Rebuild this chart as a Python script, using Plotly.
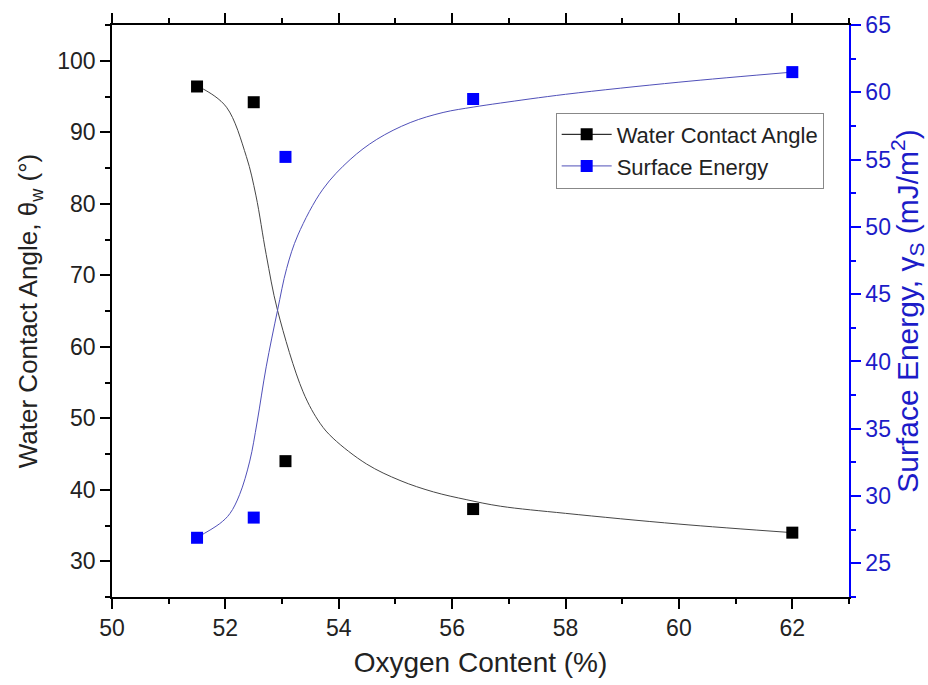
import plotly.graph_objects as go

# Measured data points
oxygen = [51.5, 52.5, 53.06, 56.37, 62.0]
contact_angle = [96.4, 94.2, 44.0, 37.3, 34.0]
surface_energy = [26.9, 28.4, 55.2, 59.5, 61.5]

# Fitted curves
fit_x_angle = [51.49, 51.62, 52.02, 52.37, 52.54, 52.72, 52.92, 53.37, 53.67, 53.90,
               54.49, 55.08, 55.67, 56.26, 56.85, 58.0, 60.0, 62.0]
fit_y_angle = [96.4, 96.0, 93.5, 86.6, 81.1, 72.9, 65.1, 53.7, 49.3, 47.2,
               43.6, 41.3, 39.7, 38.6, 37.7, 36.7, 35.2, 34.0]
fit_x_energy = [51.49, 51.90, 52.08, 52.25, 52.43, 52.56, 52.72, 52.92, 53.08,
                53.28, 53.72, 54.20, 54.67, 55.26, 55.84, 56.37, 56.85, 58.0,
                60.0, 62.0]
fit_y_energy = [26.9, 27.95, 28.7, 30.1, 32.6, 35.5, 39.6, 43.8, 46.9,
                49.4, 52.8, 55.0, 56.5, 57.75, 58.5, 58.9, 59.2, 59.85,
                60.75, 61.5]

BLACK_LINE = "rgb(70,70,70)"
BLUE = "#0000ff"
BLUE_LINE = "rgb(80,80,185)"
BLUE_TEXT = "#1c1cc8"
TEXT = "#222"
FONT = "Liberation Sans, Arial, sans-serif"
NB = "\u00a0"

fig = go.Figure()

fig.add_trace(go.Scatter(x=fit_x_angle, y=fit_y_angle, mode="lines",
                         line=dict(color=BLACK_LINE, width=1, shape="spline", smoothing=1),
                         showlegend=False, hoverinfo="skip"))
fig.add_trace(go.Scatter(x=fit_x_energy, y=fit_y_energy, mode="lines", yaxis="y2",
                         line=dict(color=BLUE_LINE, width=1, shape="spline", smoothing=1),
                         showlegend=False, hoverinfo="skip"))
fig.add_trace(go.Scatter(x=oxygen, y=contact_angle, mode="markers",
                         marker=dict(symbol="square", size=12, color="black"),
                         showlegend=False))
fig.add_trace(go.Scatter(x=oxygen, y=surface_energy, mode="markers", yaxis="y2",
                         marker=dict(symbol="square", size=12, color=BLUE),
                         showlegend=False))
# legend entries
fig.add_trace(go.Scatter(x=[None], y=[None], mode="lines+markers", name="Water Contact Angle",
                         line=dict(color="black", width=1),
                         marker=dict(symbol="square", size=12, color="black")))
fig.add_trace(go.Scatter(x=[None], y=[None], mode="lines+markers", name="Surface Energy",
                         yaxis="y2",
                         line=dict(color=BLUE_LINE, width=1),
                         marker=dict(symbol="square", size=12, color=BLUE)))

fig.update_layout(
    width=928, height=685,
    margin=dict(l=112, r=79, t=16, b=87),
    paper_bgcolor="white", plot_bgcolor="white",
    font=dict(family=FONT, size=22, color=TEXT),
    xaxis=dict(
        range=[50, 63], dtick=2, tick0=50,
        showline=True, linecolor="black", linewidth=1.5, mirror="ticks",
        ticks="outside", ticklen=10, tickwidth=1.5, tickcolor="black",
        minor=dict(dtick=1, ticks="outside", ticklen=5, tickwidth=1.5, tickcolor="black", showgrid=False),
        showgrid=False, zeroline=False,
        title=dict(text="Oxygen Content (%)", font=dict(size=28, color=TEXT), standoff=12),
        tickfont=dict(size=23, color=TEXT),
    ),
    yaxis=dict(
        range=[25, 105], dtick=10, tick0=30,
        showline=True, linecolor="black", linewidth=1.5,
        ticks="outside", ticklen=10, tickwidth=1.5, tickcolor="black",
        minor=dict(dtick=5, ticks="outside", ticklen=5, tickwidth=1.5, tickcolor="black", showgrid=False),
        showgrid=False, zeroline=False,
        title=dict(text="Water Contact Angle, θ<sub>w</sub> (°)" + NB * 4,
                   font=dict(size=26, color=TEXT), standoff=12),
        tickfont=dict(size=23, color=TEXT),
    ),
    yaxis2=dict(
        overlaying="y", side="right", anchor="x",
        range=[22.5, 65], dtick=5, tick0=25,
        showline=True, linecolor=BLUE, linewidth=1.5,
        ticks="outside", ticklen=10, tickwidth=1.5, tickcolor=BLUE,
        minor=dict(dtick=2.5, ticks="outside", ticklen=5, tickwidth=1.5, tickcolor=BLUE, showgrid=False),
        showgrid=False, zeroline=False,
        title=dict(text=NB * 6 + "Surface Energy, γ<sub>S</sub> (mJ/m<sup>2</sup>)",
                   font=dict(size=30, color=BLUE_TEXT), standoff=4),
        tickfont=dict(size=23, color=BLUE_TEXT),
    ),
    legend=dict(
        x=0.602, y=0.847, xanchor="left", yanchor="top",
        bgcolor="white", bordercolor="#888", borderwidth=1,
        font=dict(size=22, color=TEXT),
        tracegroupgap=0, itemwidth=50,
    ),
)

fig.write_html("out.html")
